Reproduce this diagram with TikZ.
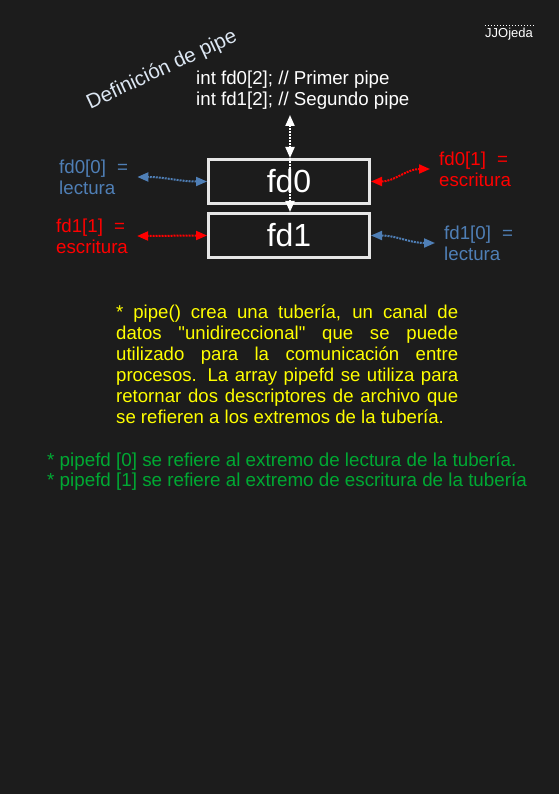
\documentclass[tikz,border=0pt]{standalone}
\usepackage{fontspec}
\setmainfont{Liberation Sans}
\usetikzlibrary{arrows.meta,positioning,calc}

\definecolor{fondo}{HTML}{1C1C1C}
\definecolor{azul}{HTML}{4F7FB6}
\definecolor{rojo}{HTML}{FF0000}
\definecolor{amarillo}{HTML}{FFFF00}
\definecolor{verde}{HTML}{00A933}
\definecolor{borde}{HTML}{E6E6E6}
\definecolor{titulo}{HTML}{DCE6F2}

\tikzset{
  fdbox/.style={draw=borde, line width=3pt, fill=fondo, minimum width=161pt,
    minimum height=44pt, text=white, font=\fontsize{32}{36}\selectfont},
  etiq/.style={anchor=west, align=left, inner xsep=9pt, inner ysep=2pt,
    font=\fontsize{18.7}{21}\selectfont},
  flecha/.style={densely dotted, line width=2pt, <->,
    >={Triangle[length=11pt,width=9pt]}},
}

\begin{document}
\begin{tikzpicture}[x=1pt, y=-1pt]
    % fondo
    \fill[fondo] (0,0) rectangle (559,794);

    % autor
    \node[text=white, inner sep=0pt, font=\fontsize{13}{15}\selectfont] (autor) at (509,34) {JJOjeda};
    \draw[white, dotted, line width=1pt] ([yshift=2pt]autor.north west) -- ([yshift=2pt]autor.north east);

    % titulo
    \node[rotate=25, text=titulo, font=\fontsize{20.5}{24}\selectfont] (titulo) at (162,70) {Definición de pipe};

    % declaracion
    \node[etiq, inner xsep=0pt, text=white] (decl) at (196,90) {int fd0[2]; // Primer pipe\\int fd1[2]; // Segundo pipe};

    % descriptores
    \node[fdbox] (fd0) at (289,181.5) {fd0};
    \node[fdbox, below=7pt of fd0] (fd1) {fd1};

    % extremos
    \node[etiq, text=azul] (lect0) at (50,177) {fd0[0]\hspace{0.6em}=\\lectura};
    \node[etiq, text=rojo] (escr0) at (430,169) {fd0[1]\hspace{0.6em}=\\escritura};
    \node[etiq, text=rojo] (escr1) at (47,236) {fd1[1]\hspace{0.6em}=\\escritura};
    \node[etiq, text=azul] (lect1) at (435,243) {fd1[0]\hspace{0.6em}=\\lectura};

    % flechas
    \coordinate (arriba) at (290,115);
    \draw[flecha, white] (arriba) -- (arriba |- fd0.north);
    \draw[flecha, white, ->] (arriba |- fd0.north) -- (arriba |- fd1.north);
    \draw[flecha, azul] (fd0.west) to[out=180, in=0] (lect0.east);
    \draw[flecha, rojo] (fd0.east) to[out=0, in=180] (escr0.west);
    \draw[flecha, rojo] (fd1.west) to[out=180, in=0] (escr1.east);
    \draw[flecha, azul] (fd1.east) to[out=0, in=180] (lect1.west);

    % explicacion
    \node[anchor=north west, inner sep=0pt, text width=342pt, align=justify, text=amarillo,
      font=\fontsize{18.6}{21}\selectfont] (texto) at (116,305)
      {* pipe() crea una tubería, un canal de\linebreak datos \textquotedbl unidireccional\textquotedbl{} que se puede\linebreak
       utilizado para la comunicación entre\linebreak procesos. La array pipefd se utiliza para\linebreak
       retornar dos descriptores de archivo que\linebreak se refieren a los extremos de la tubería.};

    \node[anchor=west, align=left, inner sep=0pt, text=verde, font=\fontsize{18.8}{20}\selectfont] (notas) at (47,472)
      {* pipefd [0] se refiere al extremo de lectura de la tubería.\\{}* pipefd [1] se refiere al extremo de escritura de la tubería};
\end{tikzpicture}
\end{document}
